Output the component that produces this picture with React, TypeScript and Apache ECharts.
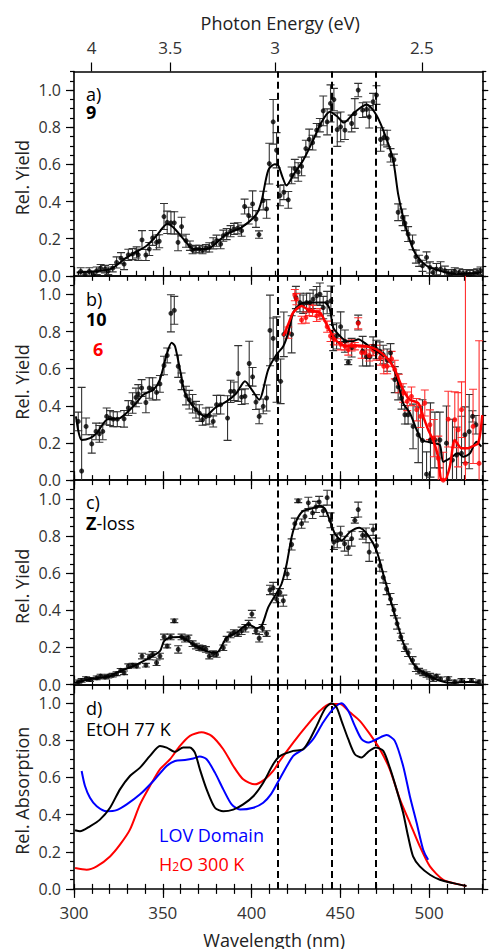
import React, { useEffect, useRef } from "react";
import * as echarts from "echarts";

const FONT = "'Open Sans', 'Noto Sans', sans-serif";
const HC = 1239.84;

// ---- axes ----
const WL_MIN = 300;
const WL_MAX = 530;
const WL_MAJOR = [300, 350, 400, 450, 500];
const WL_MINOR = [300, 310, 320, 330, 340, 350, 360, 370, 380, 390, 400, 410, 420, 430, 440, 450, 460, 470, 480, 490, 500, 510, 520, 530];
const EV_MAJOR = [4, 3.5, 3, 2.5];
const EV_MINOR = [4.1, 4.0, 3.9, 3.8, 3.7, 3.6, 3.5, 3.4, 3.3, 3.2, 3.1, 3.0, 2.9, 2.8, 2.7, 2.6, 2.5, 2.4];
const Y_MIN = 0;
const Y_MAX = 1.1;
const Y_MAJOR = [0, 0.2, 0.4, 0.6, 0.8, 1.0];
const Y_MINOR = [0, 0.05, 0.1, 0.15, 0.2, 0.25, 0.3, 0.35, 0.4, 0.45, 0.5, 0.55, 0.6, 0.65, 0.7, 0.75, 0.8, 0.85, 0.9, 0.95, 1.0, 1.05, 1.1];
const DASHED_WL = [415, 445, 470];

// ---- panel a: 9 ----
const A_WL = [303.8, 306.2, 308.6, 310.9, 312.8, 315.0, 317.5, 319.3, 321.8, 324.0, 326.5, 328.2, 330.6, 333.0, 335.3, 336.2, 338.3, 340.5, 342.4, 344.3, 346.5, 348.0, 350.7, 352.5, 354.6, 356.5, 358.6, 360.6, 363.1, 365.3, 366.8, 368.7, 370.6, 372.4, 374.3, 376.2, 378.4, 380.3, 382.6, 384.1, 386.0, 388.2, 390.1, 392.3, 394.4, 396.1, 398.4, 400.6, 402.5, 404.2, 406.6, 408.5, 410.0, 412.2, 414.1, 416.0, 418.2, 420.7, 422.6, 424.4, 426.3, 428.2, 430.6, 432.5, 434.4, 436.7, 438.5, 440.4, 442.6, 444.5, 446.4, 448.3, 450.2, 452.6, 456.4, 458.2, 460.1, 462.6, 464.8, 466.3, 468.5, 470.4, 472.7, 474.5, 476.4, 478.3, 480.2, 482.6, 485.1, 486.4, 488.2, 490.7, 492.6, 494.4, 496.3, 498.6, 500.5, 502.3, 504.2, 506.5, 508.9, 510.8, 512.7, 514.5, 517.0, 519.2, 521.1, 523.0, 525.2, 527.1, 529.0];
const A_Y = [0.023, 0.009, 0.023, 0.009, 0.027, 0.041, 0.036, 0.027, 0.041, 0.072, 0.095, 0.063, 0.113, 0.117, 0.126, 0.113, 0.193, 0.112, 0.144, 0.204, 0.18, 0.186, 0.319, 0.288, 0.285, 0.285, 0.18, 0.265, 0.189, 0.162, 0.139, 0.144, 0.144, 0.139, 0.148, 0.153, 0.175, 0.189, 0.171, 0.216, 0.225, 0.24, 0.252, 0.256, 0.243, 0.373, 0.324, 0.387, 0.306, 0.222, 0.405, 0.36, 0.604, 0.829, 0.676, 0.432, 0.45, 0.409, 0.541, 0.577, 0.559, 0.589, 0.685, 0.735, 0.717, 0.784, 0.811, 0.888, 0.829, 0.928, 0.949, 0.787, 0.802, 0.784, 0.82, 0.874, 1.0, 0.892, 0.896, 0.856, 0.937, 0.973, 0.734, 0.744, 0.739, 0.649, 0.625, 0.342, 0.315, 0.283, 0.225, 0.18, 0.103, 0.081, 0.054, 0.099, 0.045, 0.018, 0.036, 0.036, 0.027, 0.013, 0.013, 0.023, 0.018, 0.013, 0.013, 0.009, 0.013, 0.018, 0.027];
const A_ERR = [0.02, 0.015, 0.02, 0.015, 0.02, 0.02, 0.02, 0.02, 0.02, 0.03, 0.03, 0.03, 0.03, 0.03, 0.03, 0.03, 0.05, 0.03, 0.035, 0.04, 0.04, 0.035, 0.07, 0.06, 0.06, 0.06, 0.045, 0.05, 0.035, 0.025, 0.02, 0.02, 0.02, 0.02, 0.02, 0.025, 0.03, 0.03, 0.025, 0.03, 0.03, 0.03, 0.03, 0.03, 0.03, 0.04, 0.045, 0.07, 0.045, 0.02, 0.05, 0.05, 0.11, 0.12, 0.095, 0.055, 0.04, 0.045, 0.045, 0.05, 0.05, 0.05, 0.045, 0.055, 0.04, 0.036, 0.036, 0.08, 0.07, 0.1, 0.06, 0.09, 0.08, 0.05, 0.045, 0.08, 0.036, 0.04, 0.04, 0.06, 0.045, 0.05, 0.063, 0.04, 0.045, 0.036, 0.03, 0.045, 0.045, 0.04, 0.04, 0.04, 0.035, 0.03, 0.03, 0.03, 0.03, 0.025, 0.03, 0.04, 0.025, 0.02, 0.02, 0.02, 0.02, 0.02, 0.02, 0.02, 0.02, 0.02, 0.02];
const A_FIT_WL = [301.5, 320.3, 329.7, 340.9, 346.5, 352.5, 355.9, 362.5, 367.2, 374.7, 386.0, 394.4, 402.9, 405.7, 409.4, 413.0, 415.0, 417.5, 419.7, 424.0, 429.1, 434.7, 439.0, 444.1, 448.0, 452.0, 458.0, 464.8, 470.4, 476.0, 479.8, 482.6, 485.4, 489.2, 493.0, 498.6, 506.1, 515.5, 522.0, 529.5];
const A_FIT_Y = [0.018, 0.036, 0.099, 0.162, 0.216, 0.279, 0.261, 0.189, 0.144, 0.144, 0.225, 0.261, 0.333, 0.405, 0.568, 0.6, 0.595, 0.53, 0.486, 0.55, 0.622, 0.73, 0.82, 0.883, 0.86, 0.825, 0.88, 0.922, 0.865, 0.739, 0.622, 0.44, 0.315, 0.189, 0.108, 0.054, 0.027, 0.009, 0.012, 0.018];

// ---- panel b: 10 (black) and 6 (red) ----
const B_WL = [302.4, 304.3, 306.8, 310.0, 312.4, 314.3, 316.2, 318.4, 320.3, 322.1, 324.4, 328.2, 330.6, 333.0, 334.9, 336.2, 338.1, 340.5, 342.4, 344.3, 346.5, 348.4, 350.7, 352.5, 354.6, 356.5, 358.7, 360.6, 363.1, 364.9, 366.8, 368.7, 370.6, 372.4, 374.3, 376.2, 378.4, 380.3, 382.6, 386.5, 388.2, 390.1, 392.5, 394.4, 396.3, 398.7, 400.6, 402.5, 404.3, 406.6, 408.5, 410.4, 412.2, 414.1, 416.4, 418.2, 422.6, 425.0, 427.3, 429.1, 431.0, 432.9, 434.7, 436.7, 438.5, 440.4, 442.6, 444.7, 446.0, 447.9, 450.2, 452.6, 454.5, 456.4, 460.1, 462.6, 464.8, 466.7, 468.5, 470.4, 472.3, 474.2, 476.4, 478.3, 480.7, 482.6, 484.5, 486.4, 488.2, 491.0, 493.9, 496.3, 498.6, 500.8, 503.3, 506.1, 509.8, 513.2, 515.5, 518.3, 520.2, 522.6, 524.5, 526.4];
const B_Y = [0.316, 0.049, 0.289, 0.195, 0.262, 0.249, 0.262, 0.343, 0.334, 0.328, 0.328, 0.33, 0.388, 0.415, 0.445, 0.464, 0.496, 0.418, 0.496, 0.491, 0.472, 0.518, 0.617, 0.671, 0.898, 0.914, 0.613, 0.532, 0.455, 0.433, 0.411, 0.379, 0.361, 0.325, 0.343, 0.347, 0.316, 0.406, 0.406, 0.334, 0.478, 0.478, 0.574, 0.447, 0.451, 0.628, 0.556, 0.42, 0.343, 0.397, 0.442, 0.806, 0.763, 0.649, 0.532, 0.785, 0.785, 0.983, 0.956, 0.947, 0.956, 0.956, 0.974, 0.992, 1.001, 0.929, 0.956, 0.965, 0.767, 0.776, 0.826, 0.748, 0.635, 0.713, 0.848, 0.694, 0.664, 0.664, 0.721, 0.703, 0.694, 0.676, 0.646, 0.685, 0.541, 0.502, 0.442, 0.352, 0.352, 0.289, 0.244, 0.213, 0.032, 0.216, 0.216, 0.216, 0.199, 0.108, 0.135, 0.144, 0.244, 0.261, 0.343, 0.298];
const B_ERR = [0.05, 0.45, 0.045, 0.05, 0.045, 0.045, 0.045, 0.045, 0.04, 0.04, 0.04, 0.045, 0.04, 0.055, 0.05, 0.05, 0.045, 0.055, 0.055, 0.06, 0.04, 0.045, 0.05, 0.04, 0.1, 0.075, 0.06, 0.045, 0.05, 0.05, 0.05, 0.045, 0.045, 0.03, 0.045, 0.045, 0.03, 0.05, 0.05, 0.12, 0.06, 0.05, 0.15, 0.04, 0.04, 0.12, 0.05, 0.04, 0.04, 0.04, 0.07, 0.19, 0.11, 0.23, 0.12, 0.12, 0.1, 0.06, 0.05, 0.05, 0.05, 0.05, 0.05, 0.05, 0.06, 0.06, 0.06, 0.08, 0.07, 0.07, 0.08, 0.06, 0.013, 0.05, 0.04, 0.08, 0.05, 0.05, 0.05, 0.05, 0.05, 0.05, 0.06, 0.05, 0.07, 0.07, 0.06, 0.05, 0.05, 0.12, 0.15, 0.22, 0.12, 0.2, 0.15, 0.15, 0.2, 0.22, 0.15, 0.2, 0.15, 0.2, 0.03, 0.05];
const B_FIT_WL = [301.1, 304.3, 309.0, 312.8, 318.4, 325.9, 333.4, 339.0, 344.7, 348.4, 352.2, 355.0, 356.9, 359.7, 362.5, 367.2, 373.8, 379.4, 386.0, 391.6, 396.3, 400.1, 404.3, 409.4, 414.1, 417.9, 420.7, 423.5, 427.3, 431.0, 436.7, 441.3, 444.1, 446.0, 449.8, 453.5, 457.3, 460.1, 464.8, 470.4, 476.1, 479.8, 482.6, 485.4, 489.2, 493.0, 495.8, 498.6, 502.3, 506.1, 508.0, 511.7, 516.4, 519.2, 523.0, 526.7, 529.5];
const B_FIT_Y = [0.343, 0.216, 0.226, 0.253, 0.325, 0.334, 0.397, 0.46, 0.487, 0.541, 0.676, 0.74, 0.721, 0.595, 0.469, 0.397, 0.343, 0.388, 0.424, 0.469, 0.532, 0.487, 0.433, 0.595, 0.676, 0.721, 0.794, 0.902, 0.947, 0.956, 0.956, 0.956, 0.92, 0.821, 0.776, 0.748, 0.748, 0.758, 0.731, 0.694, 0.659, 0.613, 0.523, 0.415, 0.361, 0.271, 0.216, 0.207, 0.199, 0.189, 0.099, 0.117, 0.144, 0.126, 0.144, 0.207, 0.18];
const R_WL = [420.7, 424.4, 425.3, 428.2, 430.6, 432.5, 434.4, 436.7, 438.5, 442.6, 444.5, 446.4, 450.2, 452.6, 454.5, 456.4, 458.2, 460.1, 462.0, 463.9, 466.3, 468.5, 470.4, 472.7, 474.5, 476.4, 478.9, 480.7, 483.0, 485.4, 487.7, 490.1, 493.0, 495.2, 497.6, 500.5, 502.7, 505.2, 508.0, 510.8, 514.5, 516.4, 518.3, 520.5, 524.8, 528.2];
const R_Y = [0.794, 0.996, 0.974, 0.862, 0.875, 0.916, 0.911, 0.884, 0.893, 0.826, 0.776, 0.758, 0.731, 0.721, 0.703, 0.725, 0.721, 0.844, 0.686, 0.686, 0.671, 0.7, 0.686, 0.659, 0.613, 0.613, 0.653, 0.595, 0.52, 0.469, 0.424, 0.451, 0.379, 0.343, 0.415, 0.298, 0.226, 0.117, 0.0, 0.328, 0.325, 0.271, 0.379, 0.09, 0.289, 0.09];
const R_ERR = [0.03, 0.03, 0.03, 0.02, 0.03, 0.03, 0.03, 0.03, 0.03, 0.03, 0.03, 0.03, 0.03, 0.02, 0.03, 0.03, 0.02, 0.03, 0.03, 0.03, 0.03, 0.03, 0.04, 0.04, 0.04, 0.04, 0.04, 0.05, 0.05, 0.05, 0.05, 0.05, 0.06, 0.06, 0.07, 0.08, 0.1, 0.12, 0.15, 0.15, 0.15, 0.2, 0.15, 1.1, 0.2, 0.66];
const R_FIT_WL = [417.9, 420.7, 423.5, 428.2, 432.9, 438.5, 443.2, 447.9, 453.5, 459.2, 464.8, 470.4, 476.1, 480.7, 485.4, 489.2, 493.9, 496.7, 499.5, 502.3, 505.1, 507.0, 508.9, 511.7, 514.5, 518.3, 522.0, 524.0, 527.7, 530.0];
const R_FIT_Y = [0.776, 0.839, 0.902, 0.938, 0.911, 0.902, 0.821, 0.748, 0.721, 0.725, 0.721, 0.703, 0.659, 0.595, 0.487, 0.433, 0.415, 0.343, 0.271, 0.216, 0.126, 0.0, 0.0, 0.072, 0.216, 0.171, 0.171, 0.18, 0.199, 0.35];

// ---- panel c: Z-loss ----
const C_WL = [302.4, 304.3, 306.8, 309.0, 312.8, 315.0, 317.5, 319.3, 321.8, 324.0, 326.3, 328.2, 330.6, 333.0, 335.3, 338.3, 340.5, 342.4, 344.3, 346.5, 348.4, 350.7, 352.5, 354.4, 356.5, 358.7, 360.6, 362.5, 364.4, 366.8, 368.7, 370.6, 372.4, 374.3, 376.2, 378.4, 380.3, 384.1, 386.0, 388.2, 390.1, 392.3, 394.4, 396.5, 398.4, 400.2, 402.5, 404.3, 406.2, 408.5, 410.4, 412.2, 414.1, 416.0, 417.9, 420.1, 422.6, 424.4, 426.3, 428.2, 430.1, 432.0, 434.4, 436.3, 438.1, 440.4, 442.6, 444.5, 446.4, 448.3, 450.2, 452.4, 454.5, 456.4, 458.2, 460.1, 462.6, 464.5, 466.3, 468.5, 470.4, 472.3, 474.2, 476.1, 478.3, 480.2, 482.0, 484.1, 486.4, 488.2, 490.7, 492.6, 494.4, 496.7, 498.6, 500.5, 502.3, 504.2, 506.5, 510.8, 514.5, 518.3, 523.9, 528.2];
const C_Y = [0.014, 0.022, 0.032, 0.027, 0.036, 0.045, 0.04, 0.045, 0.05, 0.058, 0.076, 0.063, 0.099, 0.104, 0.099, 0.153, 0.104, 0.148, 0.162, 0.117, 0.153, 0.256, 0.207, 0.256, 0.343, 0.189, 0.256, 0.244, 0.251, 0.22, 0.207, 0.198, 0.195, 0.189, 0.153, 0.166, 0.162, 0.198, 0.244, 0.267, 0.28, 0.274, 0.289, 0.303, 0.325, 0.379, 0.289, 0.249, 0.303, 0.274, 0.509, 0.52, 0.46, 0.496, 0.451, 0.595, 0.754, 0.866, 0.989, 0.866, 0.905, 0.978, 0.924, 0.956, 0.983, 0.935, 1.006, 0.884, 0.767, 0.776, 0.812, 0.758, 0.736, 0.785, 0.884, 0.942, 0.803, 0.803, 0.713, 0.833, 0.748, 0.64, 0.577, 0.514, 0.46, 0.401, 0.328, 0.256, 0.198, 0.171, 0.13, 0.09, 0.072, 0.063, 0.054, 0.045, 0.032, 0.045, 0.03, 0.032, 0.014, 0.022, 0.022, 0.014];
const C_ERR = [0.01, 0.01, 0.01, 0.01, 0.01, 0.01, 0.01, 0.01, 0.01, 0.01, 0.01, 0.01, 0.012, 0.01, 0.01, 0.015, 0.01, 0.015, 0.015, 0.015, 0.015, 0.015, 0.01, 0.015, 0.01, 0.02, 0.015, 0.015, 0.015, 0.015, 0.015, 0.015, 0.015, 0.015, 0.015, 0.015, 0.015, 0.015, 0.015, 0.015, 0.015, 0.015, 0.02, 0.02, 0.02, 0.02, 0.015, 0.02, 0.02, 0.015, 0.025, 0.03, 0.02, 0.02, 0.03, 0.03, 0.03, 0.03, 0.01, 0.025, 0.03, 0.03, 0.03, 0.03, 0.03, 0.03, 0.04, 0.04, 0.04, 0.04, 0.04, 0.04, 0.04, 0.04, 0.015, 0.04, 0.02, 0.04, 0.05, 0.03, 0.04, 0.03, 0.03, 0.03, 0.03, 0.03, 0.03, 0.02, 0.02, 0.02, 0.02, 0.02, 0.015, 0.015, 0.015, 0.015, 0.015, 0.01, 0.01, 0.01, 0.01, 0.01, 0.01, 0.01];
const C_FIT_WL = [300.6, 310.9, 320.3, 325.9, 333.4, 340.9, 348.4, 350.7, 354.1, 359.7, 367.2, 374.7, 380.3, 386.0, 391.6, 398.1, 402.9, 405.7, 409.4, 413.2, 416.9, 419.8, 422.6, 425.4, 429.1, 433.8, 438.5, 441.3, 444.1, 447.0, 450.7, 455.4, 460.7, 465.7, 470.4, 474.2, 477.9, 481.7, 485.4, 489.2, 493.0, 498.6, 504.2, 511.7, 522.0, 528.0];
const C_FIT_Y = [0.009, 0.032, 0.045, 0.072, 0.099, 0.135, 0.18, 0.234, 0.253, 0.256, 0.216, 0.18, 0.171, 0.253, 0.28, 0.325, 0.303, 0.316, 0.415, 0.478, 0.541, 0.649, 0.794, 0.884, 0.935, 0.947, 0.962, 0.947, 0.884, 0.812, 0.776, 0.821, 0.844, 0.803, 0.721, 0.595, 0.469, 0.343, 0.226, 0.144, 0.09, 0.054, 0.027, 0.009, 0.014, 0.012];

// ---- panel d: absorption spectra ----
const D_ETOH_WL = [300.6, 303.4, 309.0, 314.6, 320.3, 325.9, 331.5, 337.2, 342.8, 348.4, 352.2, 356.9, 361.5, 365.3, 368.1, 370.9, 374.7, 379.4, 384.1, 389.7, 395.3, 401.0, 406.6, 412.2, 416.0, 423.5, 429.1, 432.9, 436.7, 441.3, 445.1, 447.9, 450.7, 454.5, 458.2, 462.0, 465.7, 470.0, 474.2, 477.9, 481.7, 485.4, 488.2, 491.0, 494.8, 500.5, 506.1, 513.6, 521.1];
const D_ETOH_Y = [0.316, 0.31, 0.337, 0.373, 0.437, 0.536, 0.608, 0.653, 0.716, 0.77, 0.761, 0.738, 0.761, 0.761, 0.734, 0.644, 0.536, 0.437, 0.418, 0.427, 0.455, 0.499, 0.572, 0.671, 0.715, 0.743, 0.752, 0.806, 0.878, 0.969, 1.0, 0.978, 0.905, 0.806, 0.725, 0.707, 0.738, 0.761, 0.743, 0.653, 0.536, 0.41, 0.283, 0.175, 0.121, 0.076, 0.049, 0.031, 0.016];
const D_H2O_WL = [300.6, 307.1, 312.8, 320.3, 325.9, 331.5, 337.2, 342.8, 348.4, 354.1, 359.7, 365.3, 371.9, 377.5, 384.1, 389.7, 395.3, 401.9, 407.5, 412.2, 416.0, 423.5, 431.0, 438.5, 444.1, 449.8, 455.4, 461.0, 466.7, 472.3, 477.9, 483.6, 489.2, 494.8, 500.5, 508.0, 515.5, 521.0];
const D_H2O_Y = [0.112, 0.103, 0.121, 0.175, 0.238, 0.319, 0.455, 0.554, 0.644, 0.698, 0.77, 0.824, 0.843, 0.824, 0.752, 0.662, 0.59, 0.563, 0.59, 0.635, 0.69, 0.788, 0.878, 0.959, 0.996, 0.996, 0.951, 0.905, 0.833, 0.752, 0.644, 0.482, 0.356, 0.229, 0.121, 0.049, 0.027, 0.016];
const D_LOV_WL = [304.3, 306.2, 309.0, 312.8, 318.4, 324.0, 329.7, 337.2, 344.7, 352.2, 356.9, 362.5, 367.2, 370.9, 374.7, 379.4, 384.1, 388.8, 393.5, 401.0, 406.6, 411.0, 416.0, 423.5, 429.1, 434.7, 440.4, 446.0, 450.7, 454.5, 458.2, 462.0, 465.7, 470.4, 476.1, 480.7, 485.4, 489.2, 493.0, 496.7, 499.5];
const D_LOV_Y = [0.635, 0.554, 0.491, 0.445, 0.418, 0.424, 0.455, 0.509, 0.581, 0.662, 0.689, 0.694, 0.702, 0.713, 0.698, 0.626, 0.536, 0.455, 0.427, 0.437, 0.464, 0.51, 0.595, 0.716, 0.752, 0.806, 0.897, 0.969, 1.0, 0.959, 0.878, 0.806, 0.788, 0.806, 0.828, 0.797, 0.662, 0.499, 0.356, 0.211, 0.157];

// ---- layout ----
const W = 490;
const H = 949;
const GRID_LEFT = 74;
const GRID_W = 408.3;
const GRID_TOPS = [71.5, 275.8, 480.2, 684.6];
const GRID_H = 204.3;

const BLACK = "#000000";
const RED = "#ff0000";
const BLUE = "#0000ff";
const LABEL_COLOR = "#333333";

const zip = (xs: number[], ys: number[]) => xs.map((x, i) => [x, ys[i]]);

function buildOption() {
  const axisLine = { show: true, onZero: false, lineStyle: { color: BLACK, width: 1.6 } };
  const tickStyle = { color: BLACK, width: 1.2 };
  const grid = GRID_TOPS.map((t) => ({ left: GRID_LEFT, top: t, width: GRID_W, height: GRID_H }));

  const xAxis: any[] = [];
  const yAxis: any[] = [];
  const baseX = { type: "value", min: WL_MIN, max: WL_MAX, splitLine: { show: false } };
  const baseY = { type: "value", min: Y_MIN, max: Y_MAX, splitLine: { show: false } };
  const xLabelFont = { color: LABEL_COLOR, fontSize: 17, fontFamily: FONT, lineHeight: 16 };
  const yLabelFont = { color: LABEL_COLOR, fontSize: 16, fontFamily: FONT, lineHeight: 15 };

  for (let g = 0; g < 4; g++) {
    xAxis.push({
      ...baseX, gridIndex: g, position: "bottom", axisLine,
      axisTick: { show: true, inside: false, length: 9, customValues: WL_MAJOR, lineStyle: tickStyle },
      axisLabel: g === 3 ? { show: true, customValues: WL_MAJOR, margin: 16, ...xLabelFont } : { show: false },
    });
    xAxis.push({
      ...baseX, gridIndex: g, position: "bottom", axisLine: { show: false },
      axisTick: { show: true, inside: false, length: 5, customValues: WL_MINOR, lineStyle: tickStyle },
      axisLabel: { show: false },
    });
    if (g === 0) {
      const evMajorWl = EV_MAJOR.map((e) => HC / e);
      const evMinorWl = EV_MINOR.map((e) => HC / e);
      xAxis.push({
        ...baseX, gridIndex: g, position: "top", axisLine,
        axisTick: { show: true, inside: false, length: 9, customValues: evMajorWl, lineStyle: tickStyle },
        axisLabel: {
          show: true, customValues: evMajorWl, margin: 16, ...xLabelFont,
          formatter: (v: number) => String(Math.round((HC / v) * 10) / 10),
        },
      });
      xAxis.push({
        ...baseX, gridIndex: g, position: "top", axisLine: { show: false },
        axisTick: { show: true, inside: false, length: 5, customValues: evMinorWl, lineStyle: tickStyle },
        axisLabel: { show: false },
      });
    } else {
      xAxis.push({
        ...baseX, gridIndex: g, position: "top", axisLine,
        axisTick: { show: true, inside: false, length: 9, customValues: WL_MAJOR, lineStyle: tickStyle },
        axisLabel: { show: false },
      });
      xAxis.push({
        ...baseX, gridIndex: g, position: "top", axisLine: { show: false },
        axisTick: { show: true, inside: false, length: 5, customValues: WL_MINOR, lineStyle: tickStyle },
        axisLabel: { show: false },
      });
    }
    yAxis.push({
      ...baseY, gridIndex: g, position: "left", axisLine,
      axisTick: { show: true, inside: false, length: 8, customValues: Y_MAJOR, lineStyle: tickStyle },
      axisLabel: {
        show: true, customValues: Y_MAJOR, margin: 13, ...yLabelFont,
        formatter: (v: number) => v.toFixed(1),
      },
    });
    yAxis.push({
      ...baseY, gridIndex: g, position: "left", axisLine: { show: false },
      axisTick: { show: true, inside: false, length: 4, customValues: Y_MINOR, lineStyle: tickStyle },
      axisLabel: { show: false },
    });
    yAxis.push({
      ...baseY, gridIndex: g, position: "right", axisLine,
      axisTick: { show: true, inside: false, length: 6, customValues: Y_MAJOR, lineStyle: tickStyle },
      axisLabel: { show: false },
    });
    yAxis.push({
      ...baseY, gridIndex: g, position: "right", axisLine: { show: false },
      axisTick: { show: true, inside: false, length: 4, customValues: Y_MINOR, lineStyle: tickStyle },
      axisLabel: { show: false },
    });
  }

  const errorBars = (xs: number[], ys: number[], es: number[], g: number, color: string) => ({
    type: "custom", xAxisIndex: g * 4, yAxisIndex: g * 4, clip: true, silent: true, z: 3,
    data: xs.map((x, i) => [x, ys[i], es[i]]),
    encode: { x: 0, y: 1 },
    renderItem: (_p: any, api: any) => {
      const x = api.value(0);
      const y = api.value(1);
      const e = api.value(2);
      const top = api.coord([x, y + e]);
      const bot = api.coord([x, y - e]);
      const c = 4;
      const style = { stroke: color, lineWidth: 1.1, fill: null };
      return {
        type: "group",
        children: [
          { type: "line", shape: { x1: top[0], y1: top[1], x2: bot[0], y2: bot[1] }, style },
          { type: "line", shape: { x1: top[0] - c, y1: top[1], x2: top[0] + c, y2: top[1] }, style },
          { type: "line", shape: { x1: bot[0] - c, y1: bot[1], x2: bot[0] + c, y2: bot[1] }, style },
        ],
      };
    },
  });
  const points = (xs: number[], ys: number[], g: number, color: string) => ({
    type: "scatter", xAxisIndex: g * 4, yAxisIndex: g * 4, data: zip(xs, ys), symbol: "circle",
    symbolSize: 5, itemStyle: { color }, silent: true, z: 4,
  });
  const dashed = {
    silent: true, symbol: ["none", "none"], label: { show: false },
    lineStyle: { color: BLACK, width: 2, type: [7, 4] },
    data: DASHED_WL.map((v) => ({ xAxis: v })),
  };
  const curve = (xs: number[], ys: number[], g: number, color: string, width: number, withDash: boolean) => ({
    type: "line", xAxisIndex: g * 4, yAxisIndex: g * 4, data: zip(xs, ys), showSymbol: false,
    smooth: 0.25, lineStyle: { color, width }, itemStyle: { color }, silent: true, z: 5,
    ...(withDash ? { markLine: dashed } : {}),
  });

  const series: any[] = [
    errorBars(A_WL, A_Y, A_ERR, 0, "#333333"),
    points(A_WL, A_Y, 0, BLACK),
    curve(A_FIT_WL, A_FIT_Y, 0, BLACK, 2, true),

    errorBars(B_WL, B_Y, B_ERR, 1, "#333333"),
    points(B_WL, B_Y, 1, BLACK),
    curve(B_FIT_WL, B_FIT_Y, 1, BLACK, 2, true),
    errorBars(R_WL, R_Y, R_ERR, 1, "#ff3030"),
    points(R_WL, R_Y, 1, RED),
    curve(R_FIT_WL, R_FIT_Y, 1, RED, 2.5, false),

    errorBars(C_WL, C_Y, C_ERR, 2, "#333333"),
    points(C_WL, C_Y, 2, BLACK),
    curve(C_FIT_WL, C_FIT_Y, 2, BLACK, 2, true),

    curve(D_H2O_WL, D_H2O_Y, 3, RED, 2, false),
    curve(D_LOV_WL, D_LOV_Y, 3, BLUE, 2, false),
    curve(D_ETOH_WL, D_ETOH_Y, 3, BLACK, 2, true),
  ];

  const txt = (x: number, y: number, text: string, extra: any = {}) => ({
    type: "text", x, y, silent: true, z: 100,
    style: {
      text, fill: BLACK, fontFamily: FONT, fontSize: 18, lineHeight: 17,
      align: "left", verticalAlign: "middle", textAlign: "left", textVerticalAlign: "middle",
      ...extra,
    },
  });
  const rot = (x: number, y: number, text: string) => ({
    type: "text", x, y, rotation: Math.PI / 2, silent: true, z: 100,
    style: {
      text, fill: "#222222", fontFamily: FONT, fontSize: 18, lineHeight: 18,
      align: "center", verticalAlign: "middle", textAlign: "center", textVerticalAlign: "middle",
    },
  });
  const mid = (g: number) => GRID_TOPS[g] + GRID_H / 2 + 4;

  const graphic = [
    txt(GRID_LEFT + GRID_W / 2 + 2, 23, "Photon Energy (eV)", { align: "center", textAlign: "center", fill: "#222222" }),
    txt(GRID_LEFT + GRID_W / 2 - 4, 940, "Wavelength (nm)", { align: "center", textAlign: "center", fill: "#222222" }),
    rot(21.5, mid(0), "Rel. Yield"),
    rot(21.5, mid(1), "Rel. Yield"),
    rot(21.5, mid(2), "Rel. Yield"),
    rot(21.5, mid(3), "Rel. Absorption"),
    txt(86, 93.5, "a)"),
    txt(86, 112, "9", { fontWeight: "bold" }),
    txt(86, 298.5, "b)"),
    txt(86, 319, "10", { fontWeight: "bold" }),
    txt(93, 349, "6", { fontWeight: "bold", fill: RED }),
    txt(86, 501.5, "c)"),
    txt(86, 522.5, "{b|Z}-loss", { rich: { b: { fontWeight: "bold", fontSize: 18, fontFamily: FONT, fill: BLACK } } }),
    txt(86, 708, "d)"),
    txt(86, 729, "EtOH 77 K"),
    txt(159, 835, "LOV Domain", { fill: BLUE }),
    txt(159, 863.5, "{n|H}{s|2}{n|O 300 K}", {
      fill: RED,
      rich: {
        n: { fontSize: 18, fontFamily: FONT, fill: RED },
        s: { fontSize: 12, fontFamily: FONT, fill: RED, verticalAlign: "bottom" },
      },
    }),
  ];

  return { animation: false, backgroundColor: "#ffffff", grid, xAxis, yAxis, series, graphic };
}

export default function App() {
  const ref = useRef<HTMLDivElement>(null);
  useEffect(() => {
    if (!ref.current) return;
    const chart = echarts.init(ref.current, undefined, { renderer: "svg" });
    chart.setOption(buildOption() as any);
    return () => chart.dispose();
  }, []);
  return <div ref={ref} style={{ position: "absolute", left: 0, top: 0, width: W, height: H }} />;
}
